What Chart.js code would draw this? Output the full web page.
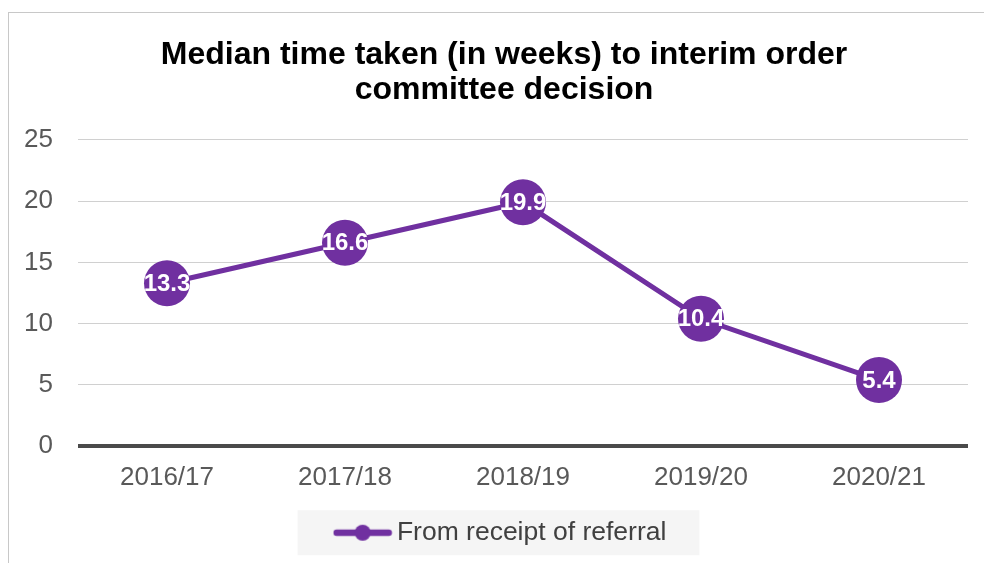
<!DOCTYPE html>
<html>
<head>
<meta charset="utf-8">
<script src="https://cdn.jsdelivr.net/npm/chart.js@4/dist/chart.umd.min.js"></script>
<style>
  html, body { margin:0; padding:0; background:#fff; overflow:hidden; }
  #frame {
    position:absolute; left:8px; top:12px;
    width:990px; height:560px;
    border:1px solid #c8c8c8;
  }
  #chart { display:block; }
</style>
</head>
<body>
<div id="frame">
  <canvas id="chart" width="990" height="560"></canvas>
</div>
<script>
/* =========================
   DATA
========================= */
const years = ["2016/17", "2017/18", "2018/19", "2019/20", "2020/21"]
const medianWeeks = [13.3, 16.6, 19.9, 10.4, 5.4]
const seriesName = "From receipt of referral"
const titleLines = ["Median time taken (in weeks) to interim order", "committee decision"]

const PURPLE = "#7030A0"
const FONT = "'Liberation Sans', Arial, sans-serif"

/* legend marker: line with a dot */
function legendMarker(){
  const c = document.createElement("canvas")
  c.width = 60
  c.height = 18
  const g = c.getContext("2d")
  g.strokeStyle = PURPLE
  g.lineWidth = 6.5
  g.lineCap = "round"
  g.beginPath()
  g.moveTo(4, 9)
  g.lineTo(56, 9)
  g.stroke()
  g.fillStyle = PURPLE
  g.beginPath()
  g.arc(30, 9, 8, 0, Math.PI * 2)
  g.fill()
  return c
}

/* value labels inside the points */
const valueLabels = {
  id: "valueLabels",
  afterDatasetsDraw(chart){
    const ctx = chart.ctx
    const meta = chart.getDatasetMeta(0)
    ctx.save()
    ctx.fillStyle = "#fff"
    ctx.font = "bold 24px " + FONT
    ctx.textAlign = "center"
    ctx.textBaseline = "middle"
    meta.data.forEach((pt, i) => {
      ctx.fillText(String(chart.data.datasets[0].data[i]), pt.x, pt.y + 1)
    })
    ctx.restore()
  }
}

/* grey panel behind the legend */
const legendPanel = {
  id: "legendPanel",
  beforeDraw(chart){
    const lg = chart.legend
    if(!lg || !lg.legendHitBoxes || !lg.legendHitBoxes.length) return
    const hb = lg.legendHitBoxes[0]
    const ctx = chart.ctx
    ctx.save()
    ctx.fillStyle = "#f5f5f5"
    const left = hb.left - 44
    const right = hb.left + hb.width + 33
    ctx.fillRect(left, hb.top + hb.height / 2 - 22.5, right - left, 45)
    ctx.restore()
  }
}

new Chart(document.getElementById("chart"), {
  type: "line",
  data: {
    labels: years,
    datasets: [{
      label: seriesName,
      data: medianWeeks,
      borderColor: PURPLE,
      backgroundColor: PURPLE,
      borderWidth: 5,
      pointRadius: 23,
      pointHoverRadius: 23,
      pointBackgroundColor: PURPLE,
      pointBorderWidth: 0,
      tension: 0
    }]
  },
  options: {
    responsive: false,
    animation: false,
    layout: { padding: { left: 0, right: 0, top: 0, bottom: 17 } },
    plugins: {
      title: {
        display: true,
        text: titleLines,
        color: "#000",
        font: { family: FONT, size: 32, weight: "bold", lineHeight: 1.09 },
        padding: { top: 25, bottom: 32 }
      },
      legend: {
        position: "bottom",
        labels: {
          usePointStyle: true,
          pointStyle: legendMarker(),
          pointStyleWidth: 42,
          boxHeight: 18,
          color: "#404040",
          font: { family: FONT, size: 26.5 },
          padding: 10
        }
      },
      tooltip: { enabled: false }
    },
    scales: {
      x: {
        offset: true,
        grid: { display: false, drawTicks: false },
        border: { display: false },
        ticks: { color: "#595959", font: { family: FONT, size: 26 }, padding: 16 }
      },
      y: {
        min: 0,
        max: 25,
        afterFit(scale){ scale.width = 69 },
        ticks: { stepSize: 5, color: "#595959", font: { family: FONT, size: 26 }, padding: 25 },
        grid: {
          drawTicks: false,
          color: ctx => ctx.tick.value === 0 ? "#4a4a4a" : "#d0d0d0",
          lineWidth: ctx => ctx.tick.value === 0 ? 4 : 1
        },
        border: { display: false }
      },
      /* empty right-hand gutter so the title and legend stay centred on the frame */
      gutter: {
        position: "right",
        display: true,
        min: 0,
        max: 25,
        afterFit(scale){ scale.width = 31 },
        ticks: { display: false },
        grid: { display: false, drawTicks: false },
        border: { display: false }
      }
    }
  },
  plugins: [legendPanel, valueLabels]
})
</script>
</body>
</html>
